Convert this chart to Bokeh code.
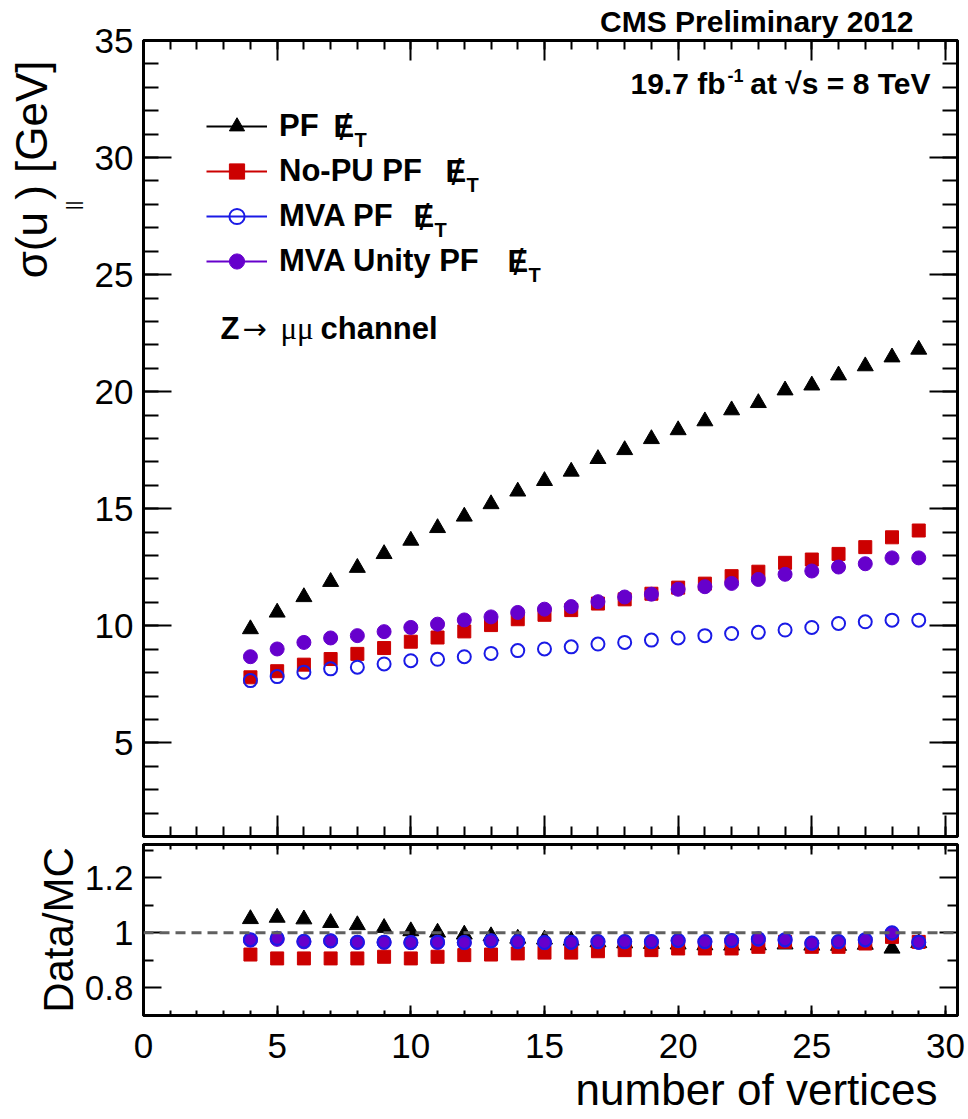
import math
from bokeh.plotting import figure
from bokeh.models import (Range1d, LinearAxis, SingleIntervalTicker, FixedTicker,
                          Label, Span, Legend, LegendItem, Title)
from bokeh.layouts import column
from bokeh.embed import file_html
from bokeh.resources import INLINE

# ---------------- data ----------------
nvtx = [4, 5, 6, 7, 8, 9, 10, 11, 12, 13, 14, 15, 16,
        17, 18, 19, 20, 21, 22, 23, 24, 25, 26, 27, 28, 29]

pf_sigma = [9.86, 10.57, 11.23, 11.88, 12.48, 13.07, 13.64, 14.18, 14.67, 15.20, 15.74, 16.19, 16.59,
            17.13, 17.51, 17.98, 18.36, 18.74, 19.21, 19.52, 20.06, 20.27, 20.70, 21.09, 21.47, 21.80]
nopu_sigma = [7.80, 8.06, 8.34, 8.58, 8.80, 9.05, 9.32, 9.50, 9.76, 10.03, 10.28, 10.47, 10.67,
              10.95, 11.13, 11.37, 11.63, 11.80, 12.12, 12.31, 12.69, 12.83, 13.07, 13.36, 13.78, 14.07]
mva_sigma = [7.66, 7.83, 8.02, 8.16, 8.23, 8.37, 8.51, 8.57, 8.68, 8.82, 8.94, 9.01, 9.10,
             9.22, 9.29, 9.39, 9.48, 9.58, 9.67, 9.72, 9.82, 9.93, 10.10, 10.17, 10.24, 10.24]
unity_sigma = [8.68, 9.01, 9.29, 9.48, 9.58, 9.75, 9.93, 10.07, 10.25, 10.38, 10.57, 10.71, 10.82,
               11.03, 11.23, 11.35, 11.56, 11.67, 11.81, 11.98, 12.20, 12.34, 12.51, 12.65, 12.90, 12.90]

pf_ratio = [1.050, 1.055, 1.049, 1.036, 1.028, 1.018, 1.006, 1.001, 0.994, 0.988, 0.979, 0.976, 0.972,
            0.966, 0.962, 0.960, 0.958, 0.955, 0.954, 0.955, 0.958, 0.954, 0.953, 0.957, 0.943, 0.963]
nopu_ratio = [0.921, 0.907, 0.907, 0.907, 0.907, 0.913, 0.907, 0.913, 0.919, 0.921, 0.925, 0.928, 0.928,
              0.933, 0.937, 0.937, 0.943, 0.943, 0.943, 0.949, 0.967, 0.949, 0.949, 0.961, 0.985, 0.967]
mva_ratio = [0.975, 0.980, 0.969, 0.971, 0.966, 0.966, 0.965, 0.966, 0.965, 0.971, 0.968, 0.965, 0.966,
             0.968, 0.968, 0.968, 0.972, 0.968, 0.972, 0.978, 0.975, 0.963, 0.968, 0.975, 1.000, 0.966]
unity_ratio = [0.973, 0.976, 0.967, 0.970, 0.965, 0.965, 0.964, 0.965, 0.964, 0.970, 0.967, 0.964, 0.965,
               0.967, 0.967, 0.967, 0.971, 0.967, 0.971, 0.976, 0.973, 0.961, 0.967, 0.973, 0.998, 0.965]

legend_labels = ["PF", "No-PU PF", "MVA PF", "MVA Unity PF"]
y_ticks_ratio = [0.8, 1.0, 1.2]
y_minor_ratio = [0.7, 0.9, 1.1, 1.3]

# ---------------- style ----------------
FONT = "Liberation Sans"
BLACK = "#000000"
RED = "#cc0000"
BLUE = "#1a1ae6"
PURPLE = "#6600cc"

X0, X1 = 0, 30.45
Y0, Y1 = 1, 35
R0, R1 = 0.7, 1.32


def make_axis(ticker, major_in, minor_in, show_labels, size="35px", standoff=10):
    ax = LinearAxis(ticker=ticker)
    ax.axis_line_width = 3
    ax.axis_line_color = BLACK
    ax.major_tick_in = major_in
    ax.major_tick_out = 0
    ax.minor_tick_in = minor_in
    ax.minor_tick_out = 0
    ax.major_tick_line_width = 2
    ax.minor_tick_line_width = 2
    ax.major_tick_line_color = BLACK
    ax.minor_tick_line_color = BLACK
    ax.axis_label = None
    if show_labels:
        ax.major_label_text_font = FONT
        ax.major_label_text_font_size = size
        ax.major_label_text_color = BLACK
        ax.major_label_standoff = standoff
    else:
        ax.major_label_text_font_size = "0px"
        ax.major_label_text_color = None
        ax.major_label_standoff = 0
    return ax


def lab(p, text, ax, ay, xo, yo, size, bold=False, align="left", baseline="middle",
        font=FONT):
    p.add_layout(Label(x=ax, y=ay, x_offset=xo, y_offset=yo, text=text,
                       text_font=font, text_font_size=f"{size}px",
                       text_font_style="bold" if bold else "normal",
                       text_align=align, text_baseline=baseline,
                       text_color=BLACK))


def title(text, size, align, offset, standoff, bold=False, valign="bottom"):
    return Title(text=text, text_font=FONT, text_font_size=f"{size}px",
                 text_font_style="bold" if bold else "normal", text_color=BLACK,
                 align=align, offset=offset, standoff=standoff, vertical_align=valign)


# ---------------- top panel ----------------
p1 = figure(width=966, height=840, x_range=Range1d(X0, X1), y_range=Range1d(Y0, Y1),
            output_backend="svg", toolbar_location=None, title=None,
            x_axis_location=None, y_axis_location=None,
            min_border_left=143, min_border_right=9, min_border_top=39, min_border_bottom=4,
            background_fill_color="white", border_fill_color="white",
            outline_line_color=BLACK, outline_line_width=3)
p1.grid.visible = False

p1.add_layout(make_axis(SingleIntervalTicker(interval=5, num_minor_ticks=5), 28, 15, True), "left")
p1.add_layout(make_axis(SingleIntervalTicker(interval=5, num_minor_ticks=5), 28, 15, False), "right")
p1.add_layout(make_axis(SingleIntervalTicker(interval=5, num_minor_ticks=5), 21, 10, False), "below")
p1.add_layout(make_axis(SingleIntervalTicker(interval=5, num_minor_ticks=5), 20, 9, False), "above")

# titles outside the frame
p1.add_layout(title("CMS Preliminary 2012", 30, "right", 44, 5, bold=True), "above")
p1.add_layout(title("||", 19, "right", 160, 13, valign="top"), "left")
p1.add_layout(title("\u03c3(u ) [GeV]", 44, "right", 20, 0), "left")

r_pf = p1.scatter(nvtx, pf_sigma, marker="triangle", size=16, color=BLACK)
r_nopu = p1.scatter(nvtx, nopu_sigma, marker="square", size=13, color=RED)
r_unity = p1.scatter(nvtx, unity_sigma, marker="circle", size=14, color=PURPLE)
r_mva = p1.scatter(nvtx, mva_sigma, marker="circle", size=13, fill_color=None,
                   line_color=BLUE, line_width=2)

# line samples for the legend only (not drawn in the plot)
l_pf = p1.line(nvtx, pf_sigma, line_color=BLACK, line_width=2, visible=False)
l_nopu = p1.line(nvtx, nopu_sigma, line_color=RED, line_width=2, visible=False)
l_mva = p1.line(nvtx, mva_sigma, line_color=BLUE, line_width=2, visible=False)
l_unity = p1.line(nvtx, unity_sigma, line_color=PURPLE, line_width=2, visible=False)

legend = Legend(items=[
    LegendItem(label=legend_labels[0], renderers=[l_pf, r_pf]),
    LegendItem(label=legend_labels[1], renderers=[l_nopu, r_nopu]),
    LegendItem(label=legend_labels[2], renderers=[l_mva, r_mva]),
    LegendItem(label=legend_labels[3], renderers=[l_unity, r_unity]),
], location=(63, 556), padding=10, spacing=7, glyph_width=61, glyph_height=38,
    label_height=38, label_standoff=12, border_line_color=None,
    background_fill_alpha=0, label_text_font=FONT, label_text_font_style="bold",
    label_text_font_size="31px", label_text_color=BLACK, margin=0)
p1.add_layout(legend)

# E-slash-T symbols after each legend label
e_x = [190, 302, 270, 364]
for i, ex in enumerate(e_x):
    row = 86 + 45 * i
    lab(p1, "E", X0, Y1, ex, -row, 31, bold=True)
    lab(p1, "/", X0, Y1, ex + 11, -row - 1, 36, align="center")
    lab(p1, "T", X0, Y1, ex + 21, -row - 13, 20, bold=True)

# channel text
lab(p1, "Z", X0, Y1, 77, -288, 31, bold=True)
lab(p1, "\u2192", X0, Y1, 99, -288, 29, font="DejaVu Sans")
lab(p1, "\u03bc\u03bc", X0, Y1, 137, -288, 31, font="Liberation Serif")
lab(p1, "channel", X0, Y1, 177, -288, 31, bold=True)

# lumi text
lab(p1, "at \u221as = 8 TeV", X1, Y1, -27, -43, 30, bold=True, align="right")
lab(p1, "-1", X1, Y1, -214, -35, 18, bold=True, align="right")
lab(p1, "19.7 fb", X1, Y1, -232, -43, 30, bold=True, align="right")

# ---------------- bottom panel ----------------
p2 = figure(width=966, height=277, x_range=Range1d(X0, X1), y_range=Range1d(R0, R1),
            output_backend="svg", toolbar_location=None, title=None,
            x_axis_location=None, y_axis_location=None,
            min_border_left=143, min_border_right=9, min_border_top=4, min_border_bottom=102,
            background_fill_color="white", border_fill_color="white",
            outline_line_color=BLACK, outline_line_width=3)
p2.grid.visible = False

left2 = make_axis(FixedTicker(ticks=y_ticks_ratio, minor_ticks=y_minor_ratio), 18, 10, True)
left2.major_label_overrides = {1: "1"}
left2.axis_label = "Data/MC"
left2.axis_label_text_font = FONT
left2.axis_label_text_font_size = "42px"
left2.axis_label_text_font_style = "normal"
left2.axis_label_text_color = BLACK
left2.axis_label_standoff = 0
p2.add_layout(left2, "left")
p2.add_layout(make_axis(FixedTicker(ticks=y_ticks_ratio, minor_ticks=y_minor_ratio), 18, 10, False), "right")
p2.add_layout(make_axis(SingleIntervalTicker(interval=5, num_minor_ticks=5), 10, 5, True, standoff=18), "below")
p2.add_layout(make_axis(SingleIntervalTicker(interval=5, num_minor_ticks=5), 10, 5, False), "above")
p2.add_layout(title("number of vertices", 44, "right", 20, 4), "below")

p2.add_layout(Span(location=1.0, dimension="width", line_color="#606060",
                   line_width=3, line_dash="10 6"))

p2.scatter(nvtx, pf_ratio, marker="triangle", size=16, color=BLACK)
p2.scatter(nvtx, nopu_ratio, marker="square", size=13, color=RED)
p2.scatter(nvtx, unity_ratio, marker="circle", size=14, color=PURPLE)
p2.scatter(nvtx, mva_ratio, marker="circle", size=13, fill_color=None,
           line_color=BLUE, line_width=2)

layout = column(p1, p2, spacing=0)
open("out.html", "w").write(file_html(layout, INLINE))
